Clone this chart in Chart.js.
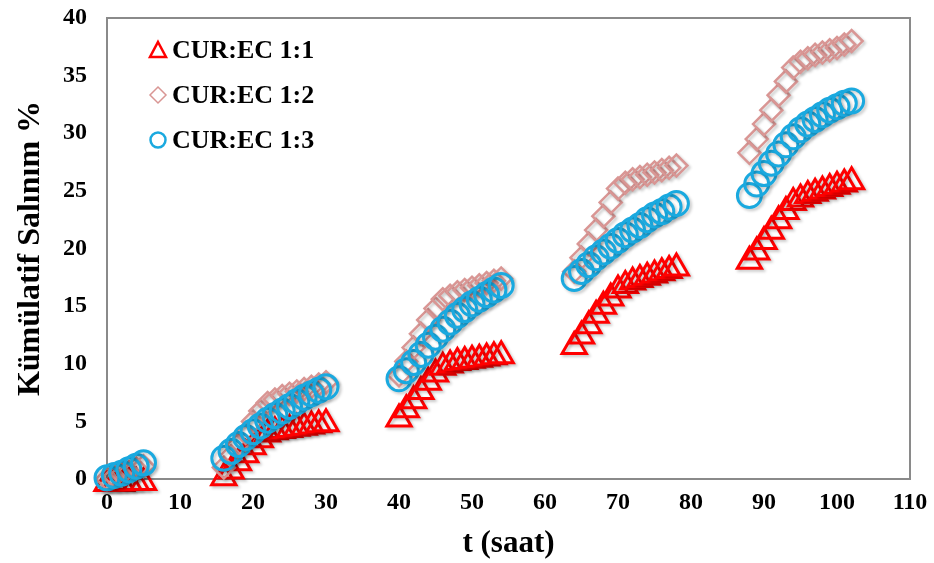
<!DOCTYPE html>
<html>
<head>
<meta charset="utf-8">
<script src="https://cdn.jsdelivr.net/npm/chart.js@4.4.1/dist/chart.umd.min.js"></script>
<style>
  html, body { margin: 0; padding: 0; background: #fff; }
  #wrap { width: 934px; height: 563px; }
</style>
</head>
<body>
<div id="wrap"><canvas id="myChart" width="934" height="563"></canvas></div>
<script>
// sampling times (hours), five sessions
const hours = [
  0, 1, 2, 3, 4, 5,
  16, 17, 18, 19, 20, 21, 22, 23, 24, 25, 26, 27, 28, 29, 30,
  40, 41, 42, 43, 44, 45, 46, 47, 48, 49, 50, 51, 52, 53, 54,
  64, 65, 66, 67, 68, 69, 70, 71, 72, 73, 74, 75, 76, 77, 78,
  88, 89, 90, 91, 92, 93, 94, 95, 96, 97, 98, 99, 100, 101, 102
];

const ec11 = [
  -0.4, -0.4, -0.4, -0.3, -0.3, -0.3,
  0.1, 0.7, 1.4, 2.1, 2.8, 3.4, 3.9, 4.1, 4.2, 4.3, 4.4, 4.5, 4.6, 4.7, 4.8,
  5.2, 6.0, 6.8, 7.6, 8.4, 9.1, 9.7, 9.9, 10.1, 10.2, 10.3, 10.4, 10.5, 10.6, 10.7,
  11.5, 12.4, 13.3, 14.2, 15.0, 15.7, 16.4, 16.8, 17.1, 17.3, 17.5, 17.7, 17.9, 18.1, 18.3,
  18.9, 19.7, 20.6, 21.5, 22.4, 23.2, 24.0, 24.3, 24.6, 24.8, 25.0, 25.2, 25.4, 25.6, 25.8
];

const ec12 = [
  0.0, 0.2, 0.4, 0.6, 0.9, 1.1,
  1.0, 2.0, 3.0, 4.0, 5.0, 5.9, 6.6, 6.9, 7.2, 7.4, 7.6, 7.8, 8.0, 8.2, 8.4,
  9.0, 10.2, 11.4, 12.6, 13.8, 14.8, 15.6, 15.9, 16.2, 16.4, 16.6, 16.8, 17.0, 17.2, 17.4,
  18.0, 19.2, 20.4, 21.6, 22.8, 24.0, 25.2, 25.7, 26.0, 26.2, 26.4, 26.6, 26.8, 27.0, 27.2,
  28.3, 29.5, 30.8, 32.0, 33.3, 34.5, 35.7, 36.2, 36.5, 36.8, 37.0, 37.2, 37.4, 37.7, 38.0
];

const ec13 = [
  0.1, 0.3, 0.5, 0.8, 1.1, 1.4,
  1.8, 2.4, 3.0, 3.6, 4.1, 4.6, 5.1, 5.5, 5.9, 6.3, 6.7, 7.1, 7.4, 7.7, 8.0,
  8.7, 9.4, 10.1, 10.8, 11.6, 12.3, 13.0, 13.6, 14.2, 14.7, 15.2, 15.6, 16.0, 16.4, 16.8,
  17.4, 18.0, 18.6, 19.2, 19.7, 20.2, 20.7, 21.2, 21.6, 22.0, 22.5, 22.9, 23.2, 23.6, 23.9,
  24.6, 25.6, 26.5, 27.4, 28.2, 29.0, 29.7, 30.3, 30.8, 31.2, 31.6, 32.0, 32.3, 32.6, 32.8
];

const labels = ['CUR:EC 1:1', 'CUR:EC 1:2', 'CUR:EC 1:3'];
const xTitle = 't (saat)';
const yTitle = 'Kümülatif Salınım %';

const serif = '"Liberation Serif", "Times New Roman", serif';

function pts(ys) {
    return hours.map((h, i) => ({ x: h, y: ys[i] }));
}

// plot frame (gray box round the plot area) + soft marker shadow like excel
const frame = {
    id: 'frame',
    beforeDatasetsDraw(chart) {
        const a = chart.chartArea;
        const c = chart.ctx;
        c.save();
        c.strokeStyle = '#8a8a8a';
        c.lineWidth = 2;
        c.strokeRect(a.left, a.top, a.right - a.left, a.bottom - a.top);
        c.restore();
        c.save();
        c.shadowColor = 'rgba(0,0,0,0.22)';
        c.shadowBlur = 3;
        c.shadowOffsetX = 2;
        c.shadowOffsetY = 2;
    },
    afterDatasetsDraw(chart) {
        chart.ctx.restore();
    }
};

// legend sits inside the plot, top left
const innerLegend = {
    id: 'innerLegend',
    afterDraw(chart) {
        const c = chart.ctx;
        const rows = [50, 95, 140];
        c.save();
        c.font = 'bold 26px ' + serif;
        c.textBaseline = 'middle';
        c.fillStyle = '#000';
        chart.data.datasets.forEach((ds, i) => {
            const y = rows[i];
            const x = 158;
            c.strokeStyle = ds.borderColor;
            c.lineWidth = 2.5;
            c.beginPath();
            if (ds.pointStyle === 'triangle') {
                c.moveTo(x, y - 8);
                c.lineTo(x + 8, y + 7);
                c.lineTo(x - 8, y + 7);
                c.closePath();
            } else if (ds.pointStyle === 'rectRot') {
                c.lineWidth = 1.5;
                c.moveTo(x, y - 8);
                c.lineTo(x + 8, y);
                c.lineTo(x, y + 8);
                c.lineTo(x - 8, y);
                c.closePath();
            } else {
                c.arc(x, y, 7.5, 0, Math.PI * 2);
            }
            c.stroke();
            c.fillText(labels[i], 172, y + 1);
        });
        c.restore();
    }
};

const ctx = document.getElementById('myChart').getContext('2d');
const chart = new Chart(ctx, {
    type: 'scatter',
    data: {
        datasets: [{
            label: labels[0],
            data: pts(ec11),
            pointStyle: 'triangle',
            pointRadius: 14,
            borderColor: '#ff0000',
            backgroundColor: 'rgba(0,0,0,0)',
            borderWidth: 3,
            order: 2,
            clip: false
        },
        {
            label: labels[1],
            data: pts(ec12),
            pointStyle: 'rectRot',
            pointRadius: 11,
            borderColor: '#d99694',
            backgroundColor: 'rgba(0,0,0,0)',
            borderWidth: 2.5,
            order: 1,
            clip: false
        },
        {
            label: labels[2],
            data: pts(ec13),
            pointStyle: 'circle',
            pointRadius: 12,
            borderColor: '#1aa9df',
            backgroundColor: 'rgba(0,0,0,0)',
            borderWidth: 3,
            order: 0,
            clip: false
        }]
    },
    options: {
        responsive: false,
        animation: false,
        events: [],
        layout: { padding: { top: 18, right: 24, left: 0, bottom: 0 } },
        plugins: {
            legend: { display: false },
            tooltip: { enabled: false }
        },
        scales: {
            x: {
                type: 'linear',
                min: 0,
                max: 110,
                afterFit(scale) {
                    scale.height = 84;
                    scale.paddingRight = 0;
                },
                grid: { display: false, drawTicks: false },
                border: { display: false },
                ticks: {
                    stepSize: 10,
                    padding: 9,
                    color: '#000',
                    font: { family: serif, size: 24, weight: 'bold' }
                },
                title: {
                    display: true,
                    text: xTitle,
                    color: '#000',
                    padding: { top: 1, bottom: 0 },
                    font: { family: serif, size: 31, weight: 'bold' }
                }
            },
            y: {
                min: 0,
                max: 40,
                afterFit(scale) {
                    scale.width = 107;
                    scale.paddingTop = 0;
                    scale.paddingBottom = 0;
                },
                grid: { display: false, drawTicks: false },
                border: { display: false },
                ticks: {
                    stepSize: 5,
                    padding: 20,
                    color: '#000',
                    font: { family: serif, size: 24, weight: 'bold' }
                },
                title: {
                    display: true,
                    text: yTitle,
                    color: '#000',
                    padding: { top: 12, bottom: 0 },
                    font: { family: serif, size: 32, weight: 'bold' }
                }
            }
        }
    },
    plugins: [frame, innerLegend]
});
</script>
</body>
</html>
